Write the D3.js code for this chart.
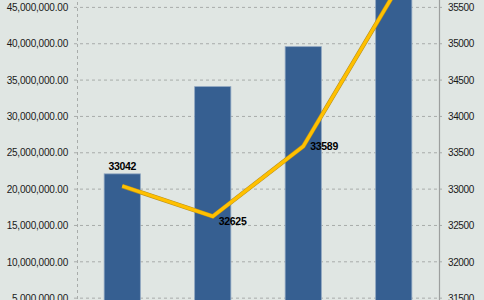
<!DOCTYPE html>
<html>
<head>
<meta charset="utf-8">
<script src="https://cdn.jsdelivr.net/npm/d3@7"></script>
<style>
  html, body { margin: 0; padding: 0; background: #e0e6e3; }
  svg { display: block; font-family: "Liberation Sans", Arial, sans-serif; }
</style>
</head>
<body>
<svg width="484" height="300"></svg>
<script>
const categories = ['A', 'B', 'C', 'D']
const amounts = [22100000, 34100000, 39600000, 48000000]
const counts = [33042, 32625, 33589, 35680]
const leftTicks = [5000000, 10000000, 15000000, 20000000, 25000000, 30000000, 35000000, 40000000, 45000000]
const rightTicks = [31500, 32000, 32500, 33000, 33500, 34000, 34500, 35000, 35500]

const svg = d3.select('svg')
const width = +svg.attr('width')

const axisLeftX = 77
const axisRightX = 439

svg.append('rect')
  .attr('width', width).attr('height', 300)
  .attr('fill', '#e0e6e3')

const xScale = d3.scaleBand()
  .domain(categories)
  .range([77, 439])
  .paddingInner(0.6)
  .paddingOuter(0.3)

const yLeft = d3.scaleLinear()
  .domain([0, 50000000])
  .range([334.5, -28.95])

const yRight = d3.scaleLinear()
  .domain([31000, 36000])
  .range([334.5, -28.95])

// grid
svg.append('g').selectAll('line')
  .data(leftTicks)
  .enter().append('line')
  .attr('x1', axisLeftX - 3)
  .attr('x2', axisRightX + 3)
  .attr('y1', d => yLeft(d))
  .attr('y2', d => yLeft(d))
  .attr('stroke', '#a8acaa')
  .attr('stroke-width', 1)
  .attr('stroke-dasharray', '3,3')

// left axis
const gl = svg.append('g')
  .attr('transform', 'translate(' + axisLeftX + ',0)')
  .call(d3.axisLeft(yLeft).tickValues(leftTicks).tickSize(0).tickPadding(9)
    .tickFormat(d3.format(',.2f')))
gl.select('.domain')
  .attr('stroke', '#a8acaa')
  .attr('stroke-dasharray', '3,3')
gl.selectAll('text')
  .attr('font-size', '10px')
  .attr('letter-spacing', '-0.2px')
  .attr('fill', '#1a1a1a')

// right axis
const gr = svg.append('g')
  .attr('transform', 'translate(' + axisRightX + ',0)')
  .call(d3.axisRight(yRight).tickValues(rightTicks).tickSize(0).tickPadding(9)
    .tickFormat(d3.format('d')))
gr.select('.domain')
  .attr('stroke', '#9c9f9e')
  .attr('stroke-width', 1.2)
gr.selectAll('text')
  .attr('font-size', '10px')
  .attr('letter-spacing', '-0.4px')
  .attr('fill', '#1a1a1a')

// bars
svg.append('g').selectAll('rect')
  .data(amounts)
  .enter().append('rect')
  .attr('x', (d, i) => xScale(categories[i]))
  .attr('width', xScale.bandwidth())
  .attr('y', d => yLeft(d))
  .attr('height', d => yLeft(0) - yLeft(d))
  .attr('fill', '#365f91')
  .attr('stroke', '#8fa6c1')
  .attr('stroke-width', 0.8)

// line
const line = d3.line()
  .x((d, i) => xScale(categories[i]) + xScale.bandwidth() / 2)
  .y(d => yRight(d))

svg.append('path')
  .datum(counts)
  .attr('d', line)
  .attr('fill', 'none')
  .attr('stroke', '#b8901e')
  .attr('stroke-width', 4.4)
  .attr('stroke-linejoin', 'miter')

svg.append('path')
  .datum(counts)
  .attr('d', line)
  .attr('fill', 'none')
  .attr('stroke', '#ffc000')
  .attr('stroke-width', 3.2)
  .attr('stroke-linejoin', 'miter')

// point labels (the last one sits above the visible area)
const labelPos = [
  {dx: 0, dy: -20, anchor: 'middle'},
  {dx: 6, dy: 5, anchor: 'start'},
  {dx: 7, dy: 0, anchor: 'start'},
  {dx: 0, dy: -20, anchor: 'middle'}
]
svg.append('g').selectAll('text')
  .data(counts)
  .enter().append('text')
  .attr('x', (d, i) => xScale(categories[i]) + xScale.bandwidth() / 2 + labelPos[i].dx)
  .attr('y', (d, i) => yRight(d) + labelPos[i].dy)
  .attr('dy', '0.35em')
  .attr('text-anchor', (d, i) => labelPos[i].anchor)
  .attr('font-size', '10.5px')
  .attr('font-weight', 'bold')
  .attr('letter-spacing', '-0.3px')
  .attr('fill', '#000')
  .text(d => d)
</script>
</body>
</html>
